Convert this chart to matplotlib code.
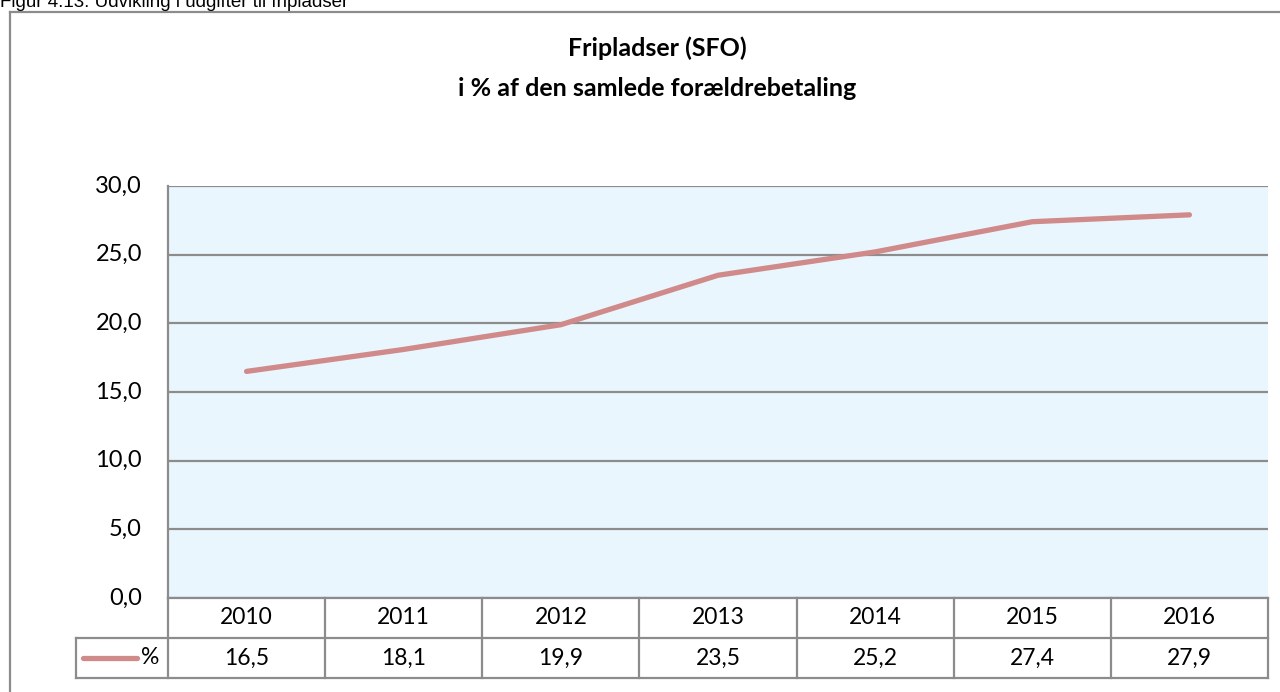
import matplotlib
matplotlib.use('Agg')
import matplotlib.pyplot as plt  # noqa
from matplotlib import transforms, lines  # noqa

years = ['2010', '2011', '2012', '2013', '2014', '2015', '2016']
share = [16.5, 18.1, 19.9, 23.5, 25.2, 27.4, 27.9]
series_label = '%'
y_ticks = [0, 5, 10, 15, 20, 25, 30]

line_colour = '#D18A8A'
grid_colour = '#8C8C8C'
plot_bg = '#EAF6FE'
fs = 16.5

plt.rcParams['font.family'] = ['Lato', 'DejaVu Sans']

W, H = 1280, 692
fig = plt.figure(figsize=(W / 100, H / 100), dpi=100)

# plot area in pixels: x 168..1268, y 186..598 (from top)
left, right, top, bottom = 168, 1268, 186, 598
ax = fig.add_axes([left / W, 1 - bottom / H, (right - left) / W, (bottom - top) / H])
ax.set_facecolor(plot_bg)

x = list(range(len(years)))
ax.plot(x, share, color=line_colour, linewidth=3.8, solid_capstyle='round', zorder=3)

ax.set_xlim(-0.5, len(years) - 0.5)
ax.set_ylim(0, 30)
ax.yaxis.grid(True, color=grid_colour, linewidth=1.6)
ax.set_axisbelow(True)
ax.set_yticks(y_ticks)
ax.set_xticks([])
ax.tick_params(axis='y', length=0, labelleft=False)
for side in ['top', 'right', 'bottom']:
    ax.spines[side].set_visible(False)
ax.spines['left'].set_color(grid_colour)
ax.spines['left'].set_linewidth(1.6)

# y labels, set a bit away from the axis
ylab = transforms.blended_transform_factory(ax.transAxes, ax.transData)
label_x = (142 - left) / (right - left)
for v in y_ticks:
    ax.text(label_x, v, f'{v:.1f}'.replace('.', ','), transform=ylab, ha='right',
            va='center', fontsize=17)

# data table under the plot
row_h = 40 / (bottom - top)
blend = transforms.blended_transform_factory(ax.transData, ax.transAxes)
head_left = (76 - left) / (right - left)

def hline(x0, x1, y, trans):
    ax.add_line(lines.Line2D([x0, x1], [y, y], transform=trans, color=grid_colour,
                             linewidth=1.6, clip_on=False))

def vline(xv, y0, y1, trans):
    ax.add_line(lines.Line2D([xv, xv], [y0, y1], transform=trans, color=grid_colour,
                             linewidth=1.6, clip_on=False))

hline(0, 1, 0, ax.transAxes)
hline(head_left, 1, -row_h, ax.transAxes)
hline(head_left, 1, -2 * row_h, ax.transAxes)
vline(head_left, -row_h, -2 * row_h, ax.transAxes)
for i in range(len(years) + 1):
    vline(i - 0.5, 0, -2 * row_h, blend)

for i, (yr, v) in enumerate(zip(years, share)):
    ax.text(i, -row_h / 2, yr, transform=blend, ha='center', va='center', fontsize=fs)
    ax.text(i, -1.5 * row_h, f'{v:.1f}'.replace('.', ','), transform=blend,
            ha='center', va='center', fontsize=fs)

# legend key in the row header
key_y = -1.5 * row_h
ax.add_line(lines.Line2D([(83 - left) / (right - left), (137 - left) / (right - left)],
                         [key_y, key_y], transform=ax.transAxes, color=line_colour,
                         linewidth=3.8, solid_capstyle='round', clip_on=False))
ax.text((141 - left) / (right - left), key_y, series_label, transform=ax.transAxes,
        ha='left', va='center', fontsize=fs)

# chart title
fig.text(657 / W, 1 - 48 / H, 'Fripladser (SFO)', ha='center',
         va='center', fontsize=18, fontweight='bold')
fig.text(657 / W, 1 - 88 / H, 'i % af den samlede forældrebetaling',
         ha='center', va='center', fontsize=18, fontweight='bold')

# outer chart frame
fig.add_artist(lines.Line2D([10 / W, 10 / W], [0, 1 - 12 / H], transform=fig.transFigure,
                            color=grid_colour, linewidth=1.6))
fig.add_artist(lines.Line2D([10 / W, 1], [1 - 12 / H, 1 - 12 / H], transform=fig.transFigure,
                            color=grid_colour, linewidth=1.6))

# figure caption, cut off at the top edge
fig.text(0, 1 - 7 / H, 'Figur 4.13: Udvikling i udgifter til fripladser', ha='left',
         va='baseline', fontsize=13.5, family=['Liberation Sans', 'DejaVu Sans'])

fig.savefig('out.png', dpi=100)
